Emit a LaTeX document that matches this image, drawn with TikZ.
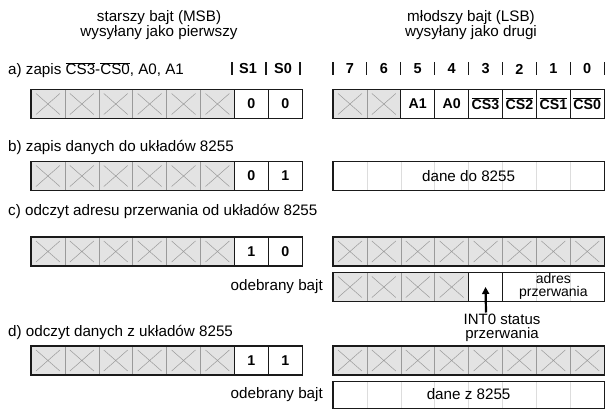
\documentclass[tikz,border=0pt]{standalone}
\usepackage{fontspec}
\setmainfont{Liberation Sans}
\usetikzlibrary{arrows.meta}
\newcommand{\ovl}[1]{\ensuremath{\overline{\mbox{#1}}}}
\definecolor{xfill}{HTML}{E3E3E3}
\definecolor{xline}{HTML}{9A9A9A}
\definecolor{frm}{HTML}{1A1A1A}
\definecolor{faint}{HTML}{DDDDDD}
\begin{document}
\begin{tikzpicture}[x=1pt,y=-1pt,
  txt/.style={font=\fontsize{15.2}{15}\selectfont, inner sep=0pt},
  hdr/.style={font=\bfseries\fontsize{14.5}{15}\selectfont, inner sep=0pt},
  cellbase/.style={minimum width=33.9pt, minimum height=29pt, inner sep=0pt, outer sep=0pt},
  xcell/.style={cellbase, fill=xfill, draw=xline, line width=0.6pt,
    path picture={\draw[xline, line width=0.5pt]
      ([shift={(5pt,-4pt)}]path picture bounding box.north west) -- ([shift={(-5pt,4pt)}]path picture bounding box.south east)
      ([shift={(-5pt,-4pt)}]path picture bounding box.north east) -- ([shift={(5pt,4pt)}]path picture bounding box.south west);}},
  wcell/.style={cellbase, fill=white, draw=frm, line width=0.8pt, font=\bfseries\fontsize{14.2}{15}\selectfont},
  wide/.style={minimum height=29pt, inner sep=0pt, outer sep=0pt},
  frame/.style={draw=frm, line width=1.2pt},
  bar/.style={line width=1.1pt, draw=frm},
  fdiv/.style={draw=faint, line width=0.6pt},
  arr/.style={line width=2.2pt, -{Triangle[width=7pt,length=7pt]}}
]
\useasboundingbox (0,0) rectangle (612,409);

% titles
\node[txt, align=center, font=\fontsize{15.2}{15}\selectfont] (tL) at (159,25.5) {starszy bajt (MSB)\\wysyłany jako pierwszy};
\node[txt, align=center, font=\fontsize{15.2}{15}\selectfont] (tR) at (471,25.5) {młodszy bajt (LSB)\\wysyłany jako drugi};

% row labels
\node[txt, anchor=west] (la) at (8,70) {a) zapis \ovl{CS3}-\ovl{CS0}, A0, A1};
\node[txt, anchor=west] (lb) at (8,147) {b) zapis danych do układów 8255};
\node[txt, anchor=west] (lc) at (8,211) {c) odczyt adresu przerwania od układów 8255};
\node[txt, anchor=west] (ld) at (8,332) {d) odczyt danych z układów 8255};
\node[txt, anchor=east] (oc) at (323,287) {odebrany bajt};
\node[txt, anchor=east] (od) at (323,395) {odebrany bajt};

% header bars left
\foreach \bx in {232,266,300} \draw[bar] (\bx,62.5) -- (\bx,75);
\node[hdr] (hS1) at (248,69) {S1};
\node[hdr] (hS0) at (283,69) {S0};
% header bars right
\foreach \k in {0,...,8} \draw[bar] ({333+33.9*\k},62.5) -- ({333+33.9*\k},75);
\foreach \k/\d in {0/7,1/6,2/5,3/4,4/3,5/2,6/1,7/0}
  \node[hdr] (hR\k) at ({333+33.9*(\k+0.5)},69) {\d};

% ---- left registers (rows a,b,c,d)
\foreach \r/\yc/\va/\vb in {a/104/0/0, b/176/0/1, c/251.5/1/0, d/360.5/1/1}{
  \foreach \k in {0,...,5}
    \node[xcell] (\r L\k) at ({31+33.9*(\k+0.5)},\yc) {};
  \node[wcell] (\r L6) at ({31+33.9*6.5},\yc) {\va};
  \node[wcell] (\r L7) at ({31+33.9*7.5},\yc) {\vb};
  \draw[frame] (\r L0.north west) rectangle (\r L7.south east);
}

% ---- right row a
\foreach \k in {0,1}
  \node[xcell] (aR\k) at ({333+33.9*(\k+0.5)},104) {};
\foreach \k/\t in {2/A1,3/A0,4/\ovl{CS3},5/\ovl{CS2},6/\ovl{CS1},7/\ovl{CS0}}
  \node[wcell] (aR\k) at ({333+33.9*(\k+0.5)},104) {\t};
\draw[frame] (aR0.north west) rectangle (aR7.south east);

% ---- right row b
\node[wide, minimum width=271.2pt] (bR) at (468.6,176) {};
\foreach \k in {1,...,7} \draw[fdiv] ({333+33.9*\k},162) -- ({333+33.9*\k},190);
\node[txt] (bRt) at (468.6,176) {dane do 8255};
\draw[frame] (bR.north west) rectangle (bR.south east);

% ---- right row c
\foreach \k in {0,...,7}
  \node[xcell] (cR\k) at ({333+33.9*(\k+0.5)},251.5) {};
\draw[frame] (cR0.north west) rectangle (cR7.south east);

% ---- right row c received
\foreach \k in {0,...,3}
  \node[xcell] (c2R\k) at ({333+33.9*(\k+0.5)},287) {};
\node[cellbase, fill=white, draw=frm, line width=0.8pt] (c2R4) at ({333+33.9*4.5},287) {};
\node[wide, minimum width=101.7pt] (c2Ra) at (553.35,287) {};
\foreach \k in {6,7} \draw[fdiv] ({333+33.9*\k},273) -- ({333+33.9*\k},301);
\node[txt, align=center, font=\fontsize{14}{13}\selectfont] (c2Rt) at (553.35,286.5) {adres\\przerwania};
\draw[frm, line width=0.8pt] (c2Ra.north west) -- (c2Ra.south west);
\draw[frame] (c2R0.north west) rectangle (c2Ra.south east);

% INT0 label and arrow
\node[txt, align=center, font=\fontsize{15}{13.5}\selectfont] (intl) at (502,328) {INT0 status\\przerwania};
\coordinate (arrs) at (486,312.5);
\draw[arr] (arrs) -- (c2R4.center);

% ---- right row d
\foreach \k in {0,...,7}
  \node[xcell] (dR\k) at ({333+33.9*(\k+0.5)},360.5) {};
\draw[frame] (dR0.north west) rectangle (dR7.south east);

% ---- right row d received
\node[wide, minimum width=271.2pt, minimum height=27pt] (d2R) at (468.6,395) {};
\foreach \k in {1,...,7} \draw[fdiv] ({333+33.9*\k},382) -- ({333+33.9*\k},408);
\node[txt] (d2Rt) at (468.6,394) {dane z 8255};
\draw[frame] (d2R.north west) rectangle (d2R.south east);
\end{tikzpicture}
\end{document}
